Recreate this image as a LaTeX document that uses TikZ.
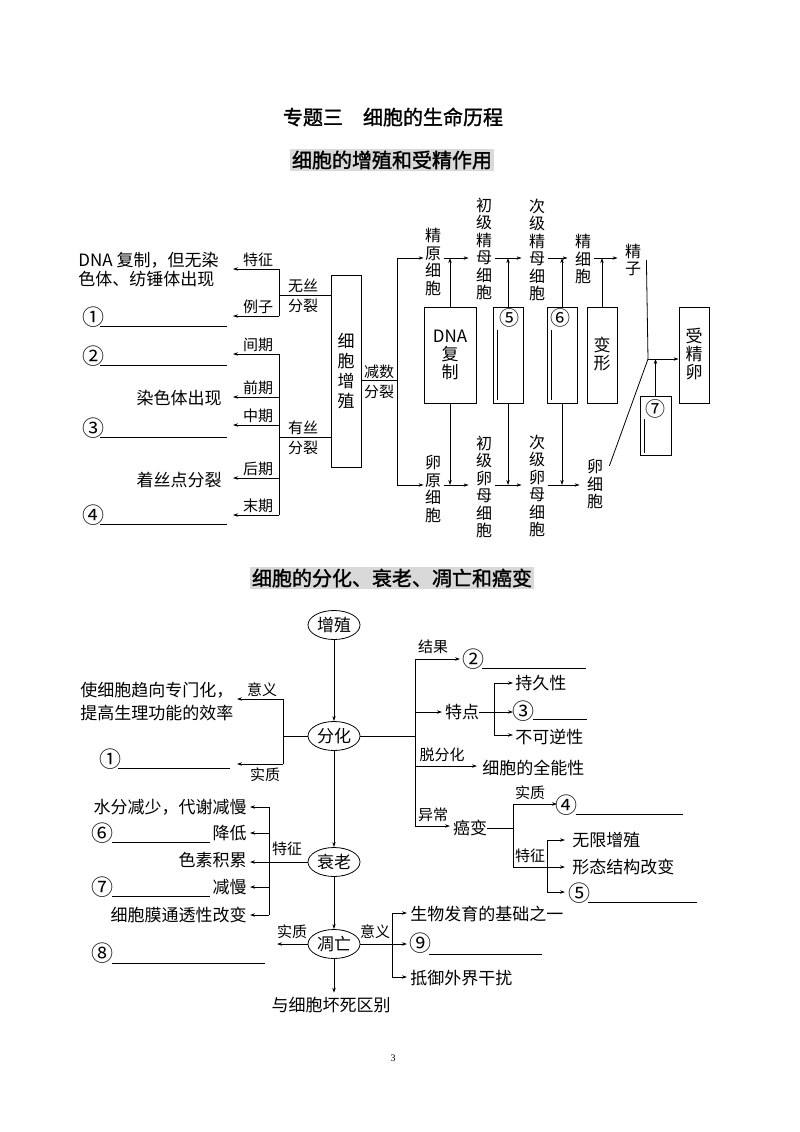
\documentclass[tikz,border=0pt]{standalone}
\usepackage{fontspec}
\setmainfont{Noto Sans CJK SC}
\newfontfamily\hei{Noto Sans CJK SC}[FakeBold=1.5]
\newfontfamily\pagefont{Liberation Serif}
\usetikzlibrary{arrows.meta,positioning,shapes.geometric}
\tikzset{
  lbl/.style={inner sep=0pt, font=\fontsize{15}{16}\selectfont},
  txt/.style={inner sep=0pt, font=\fontsize{17}{19}\selectfont},
  num/.style={inner sep=0pt, font=\fontsize{22}{24}\selectfont},
  vtxt/.style={inner sep=1pt, align=center, font=\fontsize{16}{17.4}\selectfont},
  ttl/.style={inner sep=2pt, font=\hei\fontsize{20}{22}\selectfont},
  cbox/.style={draw, minimum width=30pt, minimum height=96pt, inner sep=0pt, align=center, font=\fontsize{17}{18}\selectfont},
  oval/.style={draw, ellipse, minimum width=52pt, minimum height=29pt, inner sep=0pt, font=\fontsize{17}{19}\selectfont}
}

\begin{document}
\begin{tikzpicture}[x=1pt, y=-1pt, line width=0.8pt, >={Stealth[length=5pt,width=3.4pt]}]
\useasboundingbox (0,0) rectangle (800,1132);

\node[ttl] (title) at (393,117) {专题三\hspace{1em}细胞的生命历程};
\node[ttl, fill=gray!30] (head1) at (392,160) {细胞的增殖和受精作用};
\node[ttl, fill=gray!30] (head2) at (392,578) {细胞的分化、衰老、凋亡和癌变};

% cell proliferation
\node[cbox, minimum height=192pt, font=\fontsize{17}{20}\selectfont] (zz) at (346,371) {细\\胞\\增\\殖};
\coordinate (wj) at (279,295);
\coordinate (yj) at (279,437);
\coordinate (mj) at (397,380);
\draw (zz.west |- wj) -- (wj);
\draw (zz.west |- yj) -- (yj);
\draw (zz.east |- mj) -- (mj);
\node[lbl] (wsa) at (303,286) {无丝};
\node[lbl] (wsb) at (303,306) {分裂};
\node[lbl] (ysa) at (303,428) {有丝};
\node[lbl] (ysb) at (303,448) {分裂};
\node[lbl] (jsa) at (379,372) {减数};
\node[lbl] (jsb) at (379,392) {分裂};

\foreach \n/\y/\t in {a1/269/特征, a2/316/例子, p1/354/间期, p2/397/前期, p3/425/中期, p4/478/后期, p5/515/末期} {
  \coordinate (\n) at (279,\y);
  \coordinate (\n-t) at (233,\y);
  \draw[->] (\n) -- (\n-t);
  \node[lbl] (\n-l) at (258,\y-9.5) {\t};
}
\draw (a1) -- (a2);
\draw (p1) -- (p5);

\node[txt, align=left, anchor=west] (dna) at (78,269.5) {DNA 复制，但无染\\色体、纺锤体出现};
\node[txt, anchor=east] (rs) at (222,398) {染色体出现};
\node[txt, anchor=east] (zs) at (222,480) {着丝点分裂};
\foreach \n/\t/\y in {q1/①/317, q2/②/356, q3/③/428, q4/④/515} {
  \node[num] (\n) at (93,\y) {\t};
  \draw (100,\y+9.5) -- (227,\y+9.5);
}

% meiosis and fertilization
\coordinate (top) at (397,258);
\coordinate (bot) at (397,485);
\draw (top) -- (bot);
\node[vtxt] (jy) at (433,262) {精\\原\\细\\胞};
\node[vtxt] (cj) at (484,249) {初\\级\\精\\母\\细\\胞};
\node[vtxt] (ccj) at (537,250) {次\\级\\精\\母\\细\\胞};
\node[vtxt] (jx) at (583,259) {精\\细\\胞};
\node[vtxt] (jz) at (633,260) {精\\子};
\node[vtxt] (ly) at (433,489) {卵\\原\\细\\胞};
\node[vtxt] (cl) at (484,487) {初\\级\\卵\\母\\细\\胞};
\node[vtxt] (ccl) at (537,486) {次\\级\\卵\\母\\细\\胞};
\node[vtxt] (lx) at (595,484) {卵\\细\\胞};

\node[cbox, minimum width=52pt] (b1) at (450,355) {DNA\\复\\制};
\node[cbox] (b2) at (508,355) {};
\node[cbox] (b3) at (562,355) {};
\node[cbox] (b4) at (602,355) {\\[-6pt]变\\形};
\node[cbox] (b5) at (694,355) {\\[-6pt]受\\精\\卵};
\node[cbox, minimum width=31pt, minimum height=59pt] (b6) at (655.5,425.5) {};
\node[num, font=\fontsize{20}{22}\selectfont] (n5) at (509,318) {⑤};
\node[num, font=\fontsize{20}{22}\selectfont] (n6) at (560,318) {⑥};
\node[num, font=\fontsize{20}{22}\selectfont] (n7) at (655,409) {⑦};
\draw (497,330) -- (497,400);
\draw (551,330) -- (551,400);
\draw (644,419) -- (644,453);

\draw[->] (top) -- (top -| jy.west);
\draw[->] (bot) -- (bot -| ly.west);
\foreach \a/\b in {jy/cj, cj/ccj, ccj/jx, jx/jz} {
  \draw[->, shorten <=2pt, shorten >=6pt] (\a.east |- top) -- (\b.west |- top);
}
\foreach \a/\b in {ly/cl, cl/ccl, ccl/lx} {
  \draw[->, shorten <=2pt, shorten >=6pt] (\a.east |- bot) -- (\b.west |- bot);
}
\foreach \b in {b1,b2,b3,b4} {
  \draw[->] (\b.north) -- (\b.north |- top);
}
\foreach \b in {b1,b2,b3} {
  \draw[->] (\b.south) -- (\b.south |- bot);
}
\coordinate (fj) at (648,359);
\draw ([xshift=4pt]jz.east) -- (fj);
\draw ([shift={(5pt,-8pt)}]lx.north east) -- (fj);
\draw[->] (fj) -- (fj -| b5.west);
\draw[->] (b6.north) -- (b6.north |- fj);

% differentiation, senescence, apoptosis, cancer
\node[oval] (zz2) at (334,625) {增殖};
\node[oval] (fh) at (334,736) {分化};
\node[oval] (sl) at (334,862) {衰老};
\node[oval] (dw) at (334,944) {凋亡};
\node[txt] (hs) at (331,1005) {与细胞坏死区别};
\draw[->] (zz2) -- (fh);
\draw[->] (fh) -- (sl);
\draw[->] (sl) -- (dw);
\draw[->, shorten >=4pt] (dw) -- (dw |- hs.north);

\coordinate (fl) at (283,736);
\draw (fh) -- (fl);
\foreach \n/\y in {f1/699, f2/764} {
  \coordinate (\n) at (283,\y);
  \coordinate (\n-t) at (237,\y);
  \draw[->] (\n) -- (\n-t);
}
\draw (f1) -- (f2);
\node[lbl] (fyy) at (262,690) {意义};
\node[lbl] (fsz) at (265,775) {实质};
\node[txt, align=left, anchor=west, font=\fontsize{17}{23}\selectfont] (yy) at (80,701.5) {使细胞趋向专门化，\\提高生理功能的效率};
\node[num] (q5) at (110,759) {①};
\draw (118,768) -- (230,768);

\foreach \n/\y in {s1/807, s2/833, s4/887, s5/915} {
  \coordinate (\n) at (269,\y);
  \coordinate (\n-t) at (250,\y);
  \draw[->] (\n) -- (\n-t);
}
\coordinate (s3-t) at (250,862);
\draw (s1) -- (s5);
\draw[->] (sl) -- (s3-t);
\node[lbl] (ltz) at (287,849) {特征};
\node[txt, anchor=east] (sx1) at (247,807) {水分减少，代谢减慢};
\node[txt, anchor=east] (sx2) at (247,833) {降低};
\node[txt, anchor=east] (sx3) at (247,860) {色素积累};
\node[txt, anchor=east] (sx4) at (247,887) {减慢};
\node[txt, anchor=east] (sx5) at (247,915) {细胞膜通透性改变};
\node[num] (q6) at (102,833) {⑥};
\draw (112,842) -- (210,842);
\node[num] (q7) at (102,887) {⑦};
\draw (112,896) -- (210,896);

\coordinate (dl) at (277,944);
\draw[->] (dw) -- (dl);
\node[lbl] (dsz) at (292,932) {实质};
\node[num] (q8) at (102,953) {⑧};
\draw (112,963) -- (265,963);
\coordinate (dr) at (392,944);
\draw (dw) -- (dr);
\node[lbl] (dyy) at (375,932) {意义};
\foreach \n/\y in {d1/913, d2/944, d3/977} {
  \coordinate (\n) at (392,\y);
  \coordinate (\n-t) at (407,\y);
  \draw[->] (\n) -- (\n-t);
}
\draw (d1) -- (d3);
\node[txt, anchor=west] (dt1) at (410,914) {生物发育的基础之一};
\node[num] (q9) at (420,943) {⑨};
\draw (429,954) -- (542,954);
\node[txt, anchor=west] (dt3) at (410,978) {抵御外界干扰};

\coordinate (fr) at (415,736);
\draw (fh) -- (fr);
\foreach \n/\y/\x in {r1/659/460, r2/712/442, r3/766/477, r4/826/450} {
  \coordinate (\n) at (415,\y);
  \coordinate (\n-t) at (\x,\y);
  \draw[->] (\n) -- (\n-t);
}
\draw (r1) -- (r4);
\node[lbl] (ljg) at (433,647) {结果};
\node[num] (q2b) at (473,659) {②};
\draw (482,668) -- (586,668);
\node[txt] (td) at (462,712) {特点};
\node[lbl] (ltf) at (442,755) {脱分化};
\node[txt, anchor=west] (qn) at (482,768) {细胞的全能性};
\node[lbl] (lyc) at (433,815) {异常};
\node[txt] (ab) at (470,828) {癌变};

\coordinate (t0) at (494,712);
\draw (td) -- (t0);
\foreach \n/\y in {t1/683, t2/712, t3/735} {
  \coordinate (\n) at (494,\y);
  \coordinate (\n-t) at (513,\y);
  \draw[->] (\n) -- (\n-t);
}
\draw (t1) -- (t3);
\node[txt, anchor=west] (tx1) at (515,683) {持久性};
\node[num] (q3b) at (523,711) {③};
\draw (533,719) -- (587,719);
\node[txt, anchor=west] (tx3) at (515,737) {不可逆性};

\coordinate (c0) at (513,828);
\draw (ab) -- (c0);
\coordinate (c1) at (513,804);
\coordinate (c2) at (513,867);
\coordinate (c1-t) at (557,804);
\coordinate (c2-t) at (565,867);
\draw (c1) -- (c2);
\draw[->] (c1) -- (c1-t);
\draw[->] (c2) -- (c2-t);
\node[lbl] (lsz) at (530,793) {实质};
\node[lbl] (ltz2) at (530,856) {特征};
\node[num] (q4b) at (566,805) {④};
\draw (576,814) -- (683,814);
\node[txt, anchor=west] (ex2) at (572,867) {形态结构改变};
\coordinate (e1) at (547,840);
\coordinate (e3) at (547,892);
\coordinate (e1-t) at (565,840);
\coordinate (e3-t) at (565,892);
\draw (e1) -- (e3);
\draw[->] (e1) -- (e1-t);
\draw[->] (e3) -- (e3-t);
\node[txt, anchor=west] (ex1) at (572,840) {无限增殖};
\node[num] (q5b) at (579,893) {⑤};
\draw (588,902) -- (697,902);

\node[font=\pagefont\fontsize{10}{12}\selectfont] (pg) at (393,1058) {3};
\end{tikzpicture}
\end{document}
